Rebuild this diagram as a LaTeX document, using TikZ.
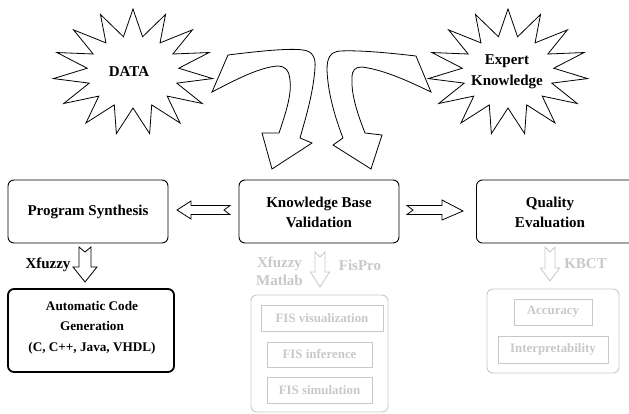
\documentclass[tikz,border=0pt]{standalone}
\usepackage{fontspec}
\setmainfont{Liberation Serif}
\definecolor{lightgrey}{RGB}{200,200,200}
% explosion outline: centre x, centre y
\newcommand\drawburst[2]{%
  \draw[burstline] plot[samples at={0,...,29}, variable=\k]
    ({#1+(80-34*mod(\k,2))*cos(-90+12*\k)}, {#2+(63-27*mod(\k,2))*sin(-90+12*\k)}) -- cycle;}
\begin{document}
\begin{tikzpicture}[x=1pt,y=-1pt,
  every node/.style={font=\fontsize{15}{20}\selectfont\bfseries, align=center, inner sep=0pt},
  mainbox/.style={draw, rounded corners=6pt, line width=0.9pt},
  codebox/.style={draw, rounded corners=6pt, line width=1.8pt},
  greybox/.style={draw=lightgrey, rounded corners=6pt, line width=0.9pt},
  greyitem/.style={draw=lightgrey, line width=0.9pt, text=lightgrey,
    font=\fontsize{12.9}{15}\selectfont\bfseries},
  greylabel/.style={text=lightgrey, font=\fontsize{15}{18}\selectfont\bfseries},
  burstline/.style={draw, line width=0.8pt, line join=miter},
  blockarrow/.style={draw, fill=white, line width=0.8pt, line join=miter},
  greyarrow/.style={draw=lightgrey, fill=white, line width=0.8pt, line join=miter}]
\useasboundingbox (0,0) rectangle (629,413);
\clip (0,0) rectangle (629,413);

% sources
\drawburst{133}{72}
\node (data) at (129,72) {DATA};
\drawburst{508}{72}
\node (expert) at (507,72) {Expert\\[1pt]Knowledge};

% main stages
\node[mainbox, minimum width=160pt, minimum height=63pt] (ps) at (88,211.5) {};
\node (pstext) at (88,212) {Program Synthesis};
\node[mainbox, minimum width=160pt, minimum height=63pt] (kbv) at (319,211.5) {};
\node (kbvtext) at (319,212) {Knowledge Base\\Validation};
\node[mainbox, minimum width=170pt, minimum height=63pt, anchor=west] (qe) at (476,211.5) {};
\node (qetext) at (550,212) {Quality\\Evaluation};

% code generation
\node[codebox, minimum width=166pt, minimum height=83pt] (acg) at (91,330.5) {};
\node[font=\fontsize{13.2}{20.5}\selectfont\bfseries] (acgtext) at (92,327.5)
  {Automatic Code\\Generation\\(C, C++, Java, VHDL)};

% validation tools
\node[greybox, minimum width=137pt, minimum height=117pt] (valtools) at (319.5,353.5) {};
\node[greyitem, minimum width=122pt, minimum height=26pt] (fisvis) at (322,318) {FIS visualization};
\node[greyitem, minimum width=105pt, minimum height=25pt] (fisinf) at (319.5,354.5) {FIS inference};
\node[greyitem, minimum width=105pt, minimum height=26pt] (fissim) at (319.5,390) {FIS simulation};

% quality measures
\node[greybox, minimum width=132pt, minimum height=84pt] (measures) at (553,331) {};
\node[greyitem, minimum width=78pt, minimum height=26pt] (acc) at (553,312) {Accuracy};
\node[greyitem, minimum width=110pt, minimum height=27pt] (interp) at (553,349.5) {Interpretability};

% tool labels
\node (xfz) at (48,265) {Xfuzzy};
\node[greylabel] (xfzmat) at (279.5,271) {Xfuzzy\\Matlab};
\node[greylabel] (fispro) at (360,265) {FisPro};
\node[greylabel] (kbct) at (585.5,264) {KBCT};

% curved arrow from the data
\path[blockarrow] (212,92) -- (228,55)
  .. controls (260,51) and (290,48) .. (303,50)
  .. controls (312,51) and (316,57) .. (315,68)
  .. controls (313,95) and (305,120) .. (300,138)
  -- (312,143) -- (272,169) -- (262,133) -- (279,133)
  .. controls (285,115) and (292,95) .. (290,80)
  .. controls (289,70) and (285,66) .. (278,66)
  .. controls (260,67) and (235,80) .. (212,92) -- cycle;

% curved arrow from the expert knowledge
\path[blockarrow] (431,92) -- (416,56)
  .. controls (390,53) and (360,50) .. (340,51)
  .. controls (330,52) and (327,58) .. (327,70)
  .. controls (328,95) and (336,120) .. (343,138)
  -- (333,145) -- (371,169) -- (382,135) -- (365,133)
  .. controls (358,115) and (351,95) .. (352,78)
  .. controls (352,70) and (355,67) .. (362,67)
  .. controls (385,70) and (410,82) .. (431,92) -- cycle;

% validation -> synthesis
\path[blockarrow] (177,210) -- (191,201) -- (191,205.5) -- (230,205.5) -- (224,210)
  -- (230,214.5) -- (191,214.5) -- (191,219) -- cycle;
% validation -> evaluation
\path[blockarrow] (407,205.5) -- (442,205.5) -- (442,200) -- (463,211) -- (442,220)
  -- (442,214.5) -- (407,214.5) -- (413,210) -- cycle;
% synthesis -> code generation
\path[blockarrow] (79,247) -- (85,252) -- (91,247) -- (91,267) -- (97,267) -- (85,282)
  -- (73,267) -- (79,267) -- cycle;
% validation -> tools
\path[greyarrow] (315,252) -- (320,257) -- (325,252) -- (325,272) -- (329.5,272) -- (320,287)
  -- (310.5,272) -- (315,272) -- cycle;
% evaluation -> measures
\path[greyarrow] (545,247) -- (550,252) -- (555,247) -- (555,268) -- (559.5,268) -- (550,281)
  -- (540.5,268) -- (545,268) -- cycle;
\end{tikzpicture}
\end{document}
